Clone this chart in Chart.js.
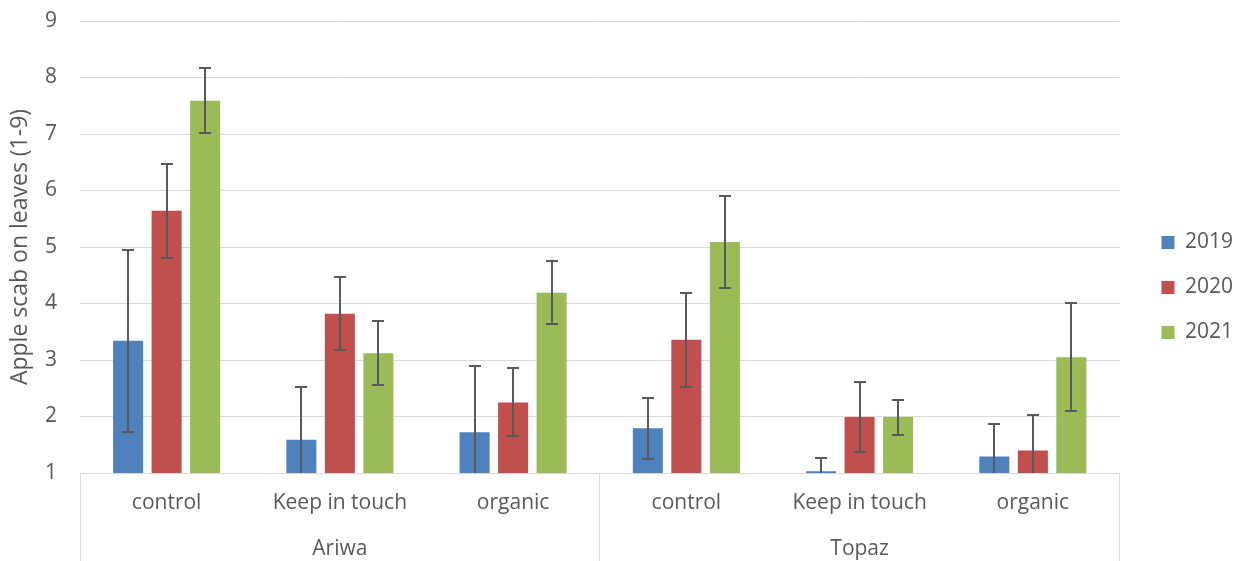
<!DOCTYPE html>
<html>
<head>
<meta charset="utf-8">
<script src="https://cdn.jsdelivr.net/npm/chart.js@4.4.1/dist/chart.umd.min.js"></script>
<style>
  body { margin: 0; background: #fff; }
  canvas { display: block; }
</style>
</head>
<body>
<canvas id="chart" width="1238" height="561"></canvas>
<script>
// data
const categories = [
  ['control', ''], ['Keep in touch', 'Ariwa'], ['organic', ''],
  ['control', ''], ['Keep in touch', 'Topaz'], ['organic', '']
];
const years = ['2019', '2020', '2021'];
const values2019 = [3.34, 1.59, 1.72, 1.79, 1.03, 1.29];
const values2020 = [5.64, 3.82, 2.25, 3.36, 1.99, 1.40];
const values2021 = [7.59, 3.12, 4.19, 5.09, 1.99, 3.05];
const errors2019 = [1.61, 0.94, 1.17, 0.54, 0.23, 0.58];
const errors2020 = [0.83, 0.65, 0.60, 0.83, 0.62, 0.63];
const errors2021 = [0.58, 0.57, 0.56, 0.81, 0.31, 0.96];
const yTicks = [1, 2, 3, 4, 5, 6, 7, 8, 9];

const colors = ['#4F81BD', '#C0504D', '#9BBB59'];
const textColor = '#595959';
const lineColor = '#d9d9d9';
const font = 'Open Sans';

// draws the +/- error whiskers on each bar
const errorBars = {
  id: 'errorBars',
  afterDatasetsDraw(chart) {
    const ctx = chart.ctx, y = chart.scales.y, a = chart.chartArea;
    ctx.save();
    ctx.beginPath();
    ctx.rect(a.left, a.top - 5, a.right - a.left, a.bottom - a.top + 5);
    ctx.clip();
    ctx.strokeStyle = '#595959';
    ctx.lineWidth = 2;
    chart.data.datasets.forEach((ds, d) => {
      chart.getDatasetMeta(d).data.forEach((bar, i) => {
        const hi = Math.round(y.getPixelForValue(ds.data[i] + ds.errors[i]));
        const lo = Math.round(y.getPixelForValue(ds.data[i] - ds.errors[i]));
        const x = Math.round(bar.x);
        ctx.beginPath();
        ctx.moveTo(x, hi); ctx.lineTo(x, lo);
        ctx.moveTo(x - 6, hi); ctx.lineTo(x + 6, hi);
        ctx.moveTo(x - 6, lo); ctx.lineTo(x + 6, lo);
        ctx.stroke();
      });
    });
    ctx.restore();
  }
};

const allValues = [values2019, values2020, values2021];
const allErrors = [errors2019, errors2020, errors2021];

new Chart(document.getElementById('chart'), {
  type: 'bar',
  data: {
    labels: categories,
    datasets: years.map((yr, k) => ({
      label: yr,
      data: allValues[k],
      errors: allErrors[k],
      backgroundColor: colors[k],
      categoryPercentage: 0.667,
      barPercentage: 0.78
    }))
  },
  options: {
    responsive: false,
    animation: false,
    layout: { padding: { top: 14, bottom: 0, left: 0, right: -5 } },
    plugins: {
      tooltip: { enabled: false },
      legend: {
        position: 'right',
        labels: {
          boxWidth: 13, boxHeight: 13, padding: 24,
          color: textColor, font: { family: font, size: 21 }
        }
      }
    },
    scales: {
      x: {
        afterFit: s => { s.height = 88; },
        border: { display: true, color: lineColor, width: 1 },
        grid: {
          offset: true,
          drawOnChartArea: false,
          drawTicks: true,
          tickLength: 88,
          color: c => (c.index === undefined || c.index % 3 === 0) ? lineColor : 'rgba(0,0,0,0)'
        },
        ticks: {
          padding: -81,
          maxRotation: 0,
          autoSkip: false,
          color: textColor,
          font: { family: font, size: 21, lineHeight: 2.2 }
        }
      },
      y: {
        min: yTicks[0],
        max: yTicks[yTicks.length - 1],
        afterFit: s => { s.width = 80; s.paddingTop = 21; s.paddingBottom = 0; },
        afterBuildTicks: s => { s.ticks = yTicks.map(v => ({ value: v })); },
        border: { display: false },
        grid: { color: lineColor, drawTicks: false },
        ticks: { padding: 23, color: textColor, font: { family: font, size: 21 } },
        title: {
          display: true,
          text: 'Apple scab on leaves (1-9)',
          color: textColor,
          font: { family: font, size: 23 },
          padding: { top: 7, bottom: 0 }
        }
      },
      gap: {
        position: 'right',
        display: true,
        afterFit: s => { s.width = 18; },
        grid: { display: false },
        border: { display: false },
        ticks: { display: false }
      }
    }
  },
  plugins: [errorBars]
});
</script>
</body>
</html>
